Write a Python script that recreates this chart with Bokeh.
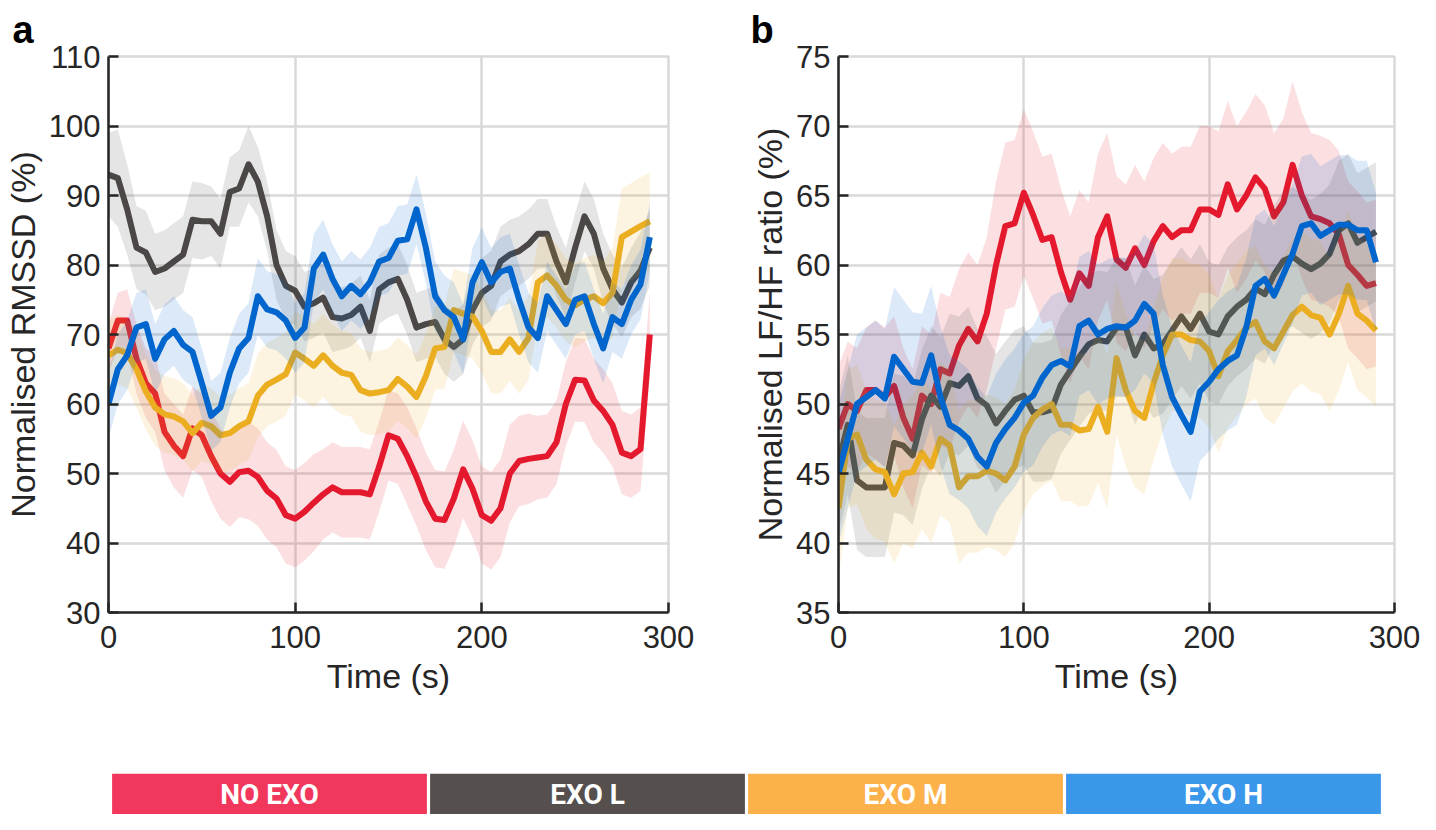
import numpy as np
from bokeh.plotting import figure
from bokeh.models import Range1d, FixedTicker, FactorRange
from bokeh.layouts import row, column
from bokeh.embed import file_html
from bokeh.resources import INLINE
from bokeh.core.properties import value

# ---------------- data ----------------
time_s = list(range(0, 295, 5))
categories = ["NO EXO", "EXO L", "EXO M", "EXO H"]
panel_letters = ["a", "b"]

# Panel a: Normalised RMSSD (%)
rmssd_no_exo = [68, 72, 72, 66.5, 63, 61.5, 56, 54, 52.5, 56.5,
                55.5, 52.5, 50, 48.8, 50.2, 50.4, 49.5, 47.5, 46.4, 44,
                43.5, 44.5, 45.8, 47, 48, 47.3, 47.3, 47.3, 47, 51,
                55.5, 55, 52.5, 49.5, 46, 43.5, 43.3, 46.4, 50.6, 47.8,
                44, 43.2, 45, 50, 51.8, 52.1, 52.3, 52.5, 54.5, 60,
                63.5, 63.4, 60.5, 59, 57, 53, 52.5, 53.5, 70]
rmssd_exo_l = [93, 92.5, 88, 82.5, 81.8, 79, 79.5, 80.5, 81.5, 86.5,
               86.3, 86.3, 84.5, 90.5, 91, 94.5, 92, 87, 80, 77,
               76.3, 74, 74.5, 75.3, 72.5, 72.3, 72.8, 74, 70.5, 76.5,
               77.5, 78, 75, 71, 71.5, 71.8, 69.3, 68.2, 69.3, 73.5,
               76, 77, 80.5, 81.5, 82, 83, 84.5, 84.5, 80.5, 77.5,
               82.5, 87, 84.5, 79.5, 76.5, 74.6, 77.5, 79.2, 82.5]
rmssd_exo_m = [67, 67.8, 67.3, 65, 61.8, 59.5, 58.5, 58.2, 57.5, 55.8,
               57.3, 56.8, 55.5, 55.8, 56.8, 57.5, 61.2, 62.8, 63.5, 64.3,
               67.4, 66.5, 65.5, 67, 65.5, 64.5, 64.2, 62, 61.5, 61.7,
               62, 63.6, 62.5, 61, 64, 68, 68.2, 73.5, 73, 72.6,
               70.5, 67.5, 67.5, 69.3, 67.5, 69.5, 77.5, 78.5, 77, 75,
               74.2, 75, 75.5, 74.5, 76, 84, 84.8, 85.6, 86.3]
rmssd_exo_h = [60, 65, 67, 71, 71.5, 66.5, 69.3, 70.5, 68.5, 67.5,
               63, 58.3, 59.5, 64.5, 68, 69.5, 75.5, 73.6, 73.2, 72,
               69.5, 71, 79.5, 81.5, 78, 75.5, 77, 75.8, 77.5, 80.5,
               81, 83.5, 83.7, 88, 82.5, 75.5, 73.5, 72.5, 69.3, 77.5,
               80.4, 77.5, 79, 79.5, 75, 71, 69.5, 75.5, 73.5, 71.5,
               75, 75.5, 71.5, 68, 72.5, 71.5, 75, 77.2, 84]

rmssd_no_exo_err = [3.5, 4, 4.5, 5, 5, 5.5, 5.5, 6, 6, 6,
                    6, 6.5, 6.5, 6.5, 6.5, 7, 7, 7, 7, 7,
                    7, 7, 7, 6.5, 6.5, 6.5, 6.5, 6.5, 6.5, 6.5,
                    6.5, 6.5, 7, 7, 7, 7, 7, 7, 7, 7,
                    7, 7, 7, 7, 6.5, 6.5, 6, 6, 6, 6,
                    6, 6, 6, 6, 6, 6, 6, 6, 6]
rmssd_exo_l_err = [6, 7, 6.5, 6, 6, 5.5, 5.5, 5.5, 5.5, 5.5,
                   5.5, 5, 5, 5, 5.5, 5.5, 5, 5, 5, 5,
                   5, 5, 5, 5, 5, 4.5, 4.5, 4.5, 4.5, 5,
                   5, 5, 5, 5, 5, 5, 5, 5, 5, 5,
                   5, 5, 5, 5, 5, 5, 5, 5, 5, 5,
                   5, 5, 5, 5, 5, 5, 5, 5.5, 5.5]
rmssd_exo_m_err = [5, 5, 5, 5.5, 5.5, 5.5, 5.5, 5.5, 5.5, 5.5,
                   5.5, 5.5, 5.5, 5.5, 5.5, 5.5, 6, 6, 6, 6,
                   6, 6, 6, 6, 6, 6, 6, 6, 6, 6,
                   6, 6, 6, 6, 6, 6, 6, 6, 6, 6,
                   6, 6, 6, 6, 6, 6, 6, 6, 6, 6,
                   6, 6, 6, 6, 6.5, 7, 7, 7, 7]
rmssd_exo_h_err = [5, 5, 5, 5, 5, 5, 5, 5, 5, 5,
                   5, 5, 5, 5, 5, 5, 5.5, 5.5, 5.5, 5.5,
                   5, 5, 5, 5, 5, 5, 5, 5, 5, 5,
                   5, 5, 5, 5, 5, 5, 5, 5, 5, 5,
                   5, 5, 5, 5, 5, 5, 5, 5, 5, 5,
                   5, 5, 5, 5, 5, 5, 5, 5, 5]

# Panel b: Normalised LF/HF ratio (%)
lfhf_no_exo = [48.2, 50, 49.5, 51, 51, 50.5, 51.3, 49, 47.5, 50.6,
               50, 52.5, 52.2, 54.2, 55.4, 54.5, 56.5, 60, 62.8, 63,
               65.2, 63.6, 61.8, 62, 59.5, 57.5, 59.4, 58.5, 62, 63.5,
               60.4, 59.8, 61.2, 60, 61.7, 62.8, 62, 62.5, 62.5, 64,
               64, 63.6, 65.8, 64, 65, 66.3, 65.5, 63.5, 64.5, 67.2,
               65, 63.5, 63.3, 63, 62.2, 60, 59.3, 58.5, 58.7]
lfhf_exo_l = [45.8, 48.5, 44.5, 44, 44, 44, 47.2, 47, 46.3, 48.9,
              50.6, 49.8, 51.5, 51.3, 52, 50.4, 49.9, 48.6, 49.5, 50.3,
              50.6, 49.4, 49.4, 49.6, 51.4, 52.4, 53.4, 54.3, 54.6, 54.5,
              55.5, 55.5, 53.5, 55, 54, 54.3, 55.3, 56.3, 55.4, 56.5,
              55.2, 55, 56.3, 57, 57.5, 58.3, 57.9, 59.3, 60.3, 60.6,
              60.1, 59.7, 60.1, 60.8, 62.5, 63, 61.6, 62, 62.4]
lfhf_exo_m = [42.5, 47.5, 47.8, 46, 45.3, 45.1, 43.5, 45, 45.1, 46.5,
              45.5, 47.5, 47, 44, 44.8, 44.8, 45.2, 45, 44.5, 45.5,
              47.8, 49, 49.6, 50, 48.5, 48.5, 48.1, 48.2, 49.8, 48,
              53.3, 51, 49.5, 49, 51.5, 53.5, 55, 55, 54.6, 54.5,
              53.8, 52, 53.8, 54.6, 55.5, 55.9, 54.5, 54, 55.2, 56.4,
              57, 56.4, 56.2, 55, 56.5, 58.5, 56.5, 56, 55.3]
lfhf_exo_h = [45, 47.5, 50, 50.5, 51, 50.4, 53.4, 52.5, 51.6, 51.5,
              53.5, 50.5, 48.5, 48.1, 47.5, 46.2, 45.5, 47.2, 48.2, 49,
              50.1, 50.6, 51.9, 52.8, 53.1, 52.7, 55.6, 56, 55, 55.4,
              55.6, 55.5, 56, 57.2, 56.5, 52.8, 50.5, 49.2, 48, 50.9,
              51.6, 52.5, 53.1, 53.5, 55.5, 58.5, 59, 57.8, 59.3, 60.8,
              62.8, 63, 62.1, 62.5, 62.9, 62.9, 62.5, 62.5, 60.2]

lfhf_no_exo_err = [4.5, 4.5, 4.5, 4.5, 5, 5, 5, 5, 5, 5,
                   5, 5.5, 5.5, 5.5, 5.5, 5.5, 5.5, 6, 6, 6,
                   6, 6, 6, 6, 6, 6, 6, 6, 6, 6,
                   6, 6, 6, 6, 6, 6, 6, 6, 6, 6,
                   6, 6, 6, 6, 6, 6, 6, 6, 6, 6,
                   6, 6, 6, 6, 6, 6, 6, 6, 6]
lfhf_exo_l_err = [5, 5, 5, 5, 5, 5, 5, 5, 5, 5,
                  5, 5, 5, 5, 5, 5, 5, 5, 5, 5,
                  5, 5, 5, 5, 5, 5, 5, 5, 5, 5,
                  5, 5, 5, 5, 5, 5, 5, 5, 5, 5,
                  5, 5, 5, 5, 5, 5, 5, 5, 5, 5,
                  5, 5, 5, 5, 5, 5, 5, 5, 5]
lfhf_exo_m_err = [5, 5, 5, 5, 5, 5, 5, 5, 5.5, 5.5,
                  5.5, 5.5, 5.5, 5.5, 5.5, 5.5, 5.5, 5.5, 5.5, 5.5,
                  5.5, 5.5, 5.5, 5.5, 5.5, 5.5, 5.5, 5.5, 5.5, 5.5,
                  5.5, 5.5, 5.5, 5.5, 5.5, 5.5, 5.5, 5.5, 5.5, 5.5,
                  5.5, 5.5, 5.5, 5.5, 5.5, 5.5, 5.5, 5.5, 5.5, 5.5,
                  5.5, 5.5, 5.5, 5.5, 5.5, 5.5, 5.5, 5.5, 5.5]
lfhf_exo_h_err = [5, 5, 5, 5, 5, 5, 5, 5, 5, 5,
                  5, 5, 5, 5, 5, 5, 5, 5, 5, 5,
                  5, 5, 5, 5, 5, 5, 5, 5, 5, 5,
                  5, 5, 5, 5, 5, 5, 5, 5, 5, 5,
                  5, 5, 5, 5, 5, 5, 5, 5, 5, 5,
                  5, 5, 5, 5, 5, 5, 5, 5, 5]

x_ticks = [0, 100, 200, 300]
rmssd_ticks = [30, 40, 50, 60, 70, 80, 90, 100, 110]
lfhf_ticks = [35, 40, 45, 50, 55, 60, 65, 70, 75]

# ---------------- style ----------------
line_colors = ["#E6192E", "#4B4846", "#EBAE20", "#0066CC"]
legend_colors = ["#F2375C", "#55504D", "#FCB14B", "#3B97EA"]
FONT = "Liberation Sans"
TXT = "#262626"
GRID = "#D9D9D9"
FIG_H = 724
TOP = 49
BOTTOM = 112


def make_panel(letter, means, errs, y_lo, y_hi, yticks, ylabel,
               width, left, right, letter_offset):
    p = figure(width=width, height=FIG_H,
               x_range=Range1d(0, 300), y_range=Range1d(y_lo, y_hi),
               output_backend="svg", toolbar_location=None,
               min_border_left=left, min_border_right=right,
               min_border_top=TOP, min_border_bottom=BOTTOM)
    p.background_fill_color = "white"
    p.border_fill_color = "white"
    p.outline_line_color = GRID
    p.outline_line_width = 2.5

    t = np.array(time_s, dtype=float)
    for m, e, c in zip(means, errs, line_colors):
        m = np.array(m, dtype=float)
        e = np.array(e, dtype=float)
        p.line(t, m, line_color=c, line_width=6, line_join="round")
        p.varea(x=t, y1=m - e, y2=m + e, fill_color=c, fill_alpha=0.14)

    p.xaxis.ticker = FixedTicker(ticks=x_ticks)
    p.yaxis.ticker = FixedTicker(ticks=yticks)
    for ax in (p.xaxis[0], p.yaxis[0]):
        ax.axis_line_color = TXT
        ax.axis_line_width = 2.5
        ax.major_tick_line_color = TXT
        ax.major_tick_line_width = 2.5
        ax.major_tick_in = 10
        ax.major_tick_out = 0
        ax.minor_tick_line_color = None
        ax.major_label_text_font = FONT
        ax.major_label_text_font_size = "31px"
        ax.major_label_text_color = TXT
        ax.axis_label_text_font = FONT
        ax.axis_label_text_font_size = "34px"
        ax.axis_label_text_font_style = "normal"
        ax.axis_label_text_color = TXT
    p.xaxis.axis_label = "Time (s)"
    p.yaxis.axis_label = ylabel
    p.xaxis.major_label_standoff = 13
    p.xaxis.axis_label_standoff = 6
    p.yaxis.major_label_standoff = 8
    p.yaxis.axis_label_standoff = 4

    p.xgrid.grid_line_color = GRID
    p.ygrid.grid_line_color = GRID
    p.xgrid.grid_line_width = 2.5
    p.ygrid.grid_line_width = 2.5

    # panel letter as a left-aligned title shifted into the left border
    p.title.text = letter
    p.title.text_font = FONT
    p.title.text_font_size = "38px"
    p.title.text_font_style = "bold"
    p.title.text_color = "black"
    p.title.align = "left"
    p.title.offset = letter_offset
    p.title.standoff = 12
    return p


pa = make_panel(panel_letters[0],
                [rmssd_no_exo, rmssd_exo_l, rmssd_exo_m, rmssd_exo_h],
                [rmssd_no_exo_err, rmssd_exo_l_err, rmssd_exo_m_err, rmssd_exo_h_err],
                30, 110, rmssd_ticks, "Normalised RMSSD (%)",
                width=732, left=100, right=64, letter_offset=-96)
pb = make_panel(panel_letters[1],
                [lfhf_no_exo, lfhf_exo_l, lfhf_exo_m, lfhf_exo_h],
                [lfhf_no_exo_err, lfhf_exo_l_err, lfhf_exo_m_err, lfhf_exo_h_err],
                35, 75, lfhf_ticks, "Normalised LF/HF ratio (%)",
                width=688, left=106, right=26, letter_offset=-88)

# legend strip
pl = figure(width=1420, height=90, x_range=FactorRange(*categories),
            y_range=Range1d(0, 1), output_backend="svg", toolbar_location=None,
            min_border_left=110, min_border_right=38, min_border_top=49,
            min_border_bottom=0)
pl.vbar(x=categories, top=1, bottom=0, width=0.99, fill_color=legend_colors,
        line_color=None)
pl.text(x=categories, y=0.5, text=categories, text_color="white",
        text_align="center", text_baseline="middle",
        text_font=value("Roboto"), text_font_size="28px",
        text_font_style="bold")
pl.axis.visible = False
pl.xgrid.visible = False
pl.ygrid.visible = False
pl.outline_line_color = None
pl.border_fill_color = "white"

layout = column(row(pa, pb), pl)
open("out.html", "w").write(file_html(layout, INLINE))
